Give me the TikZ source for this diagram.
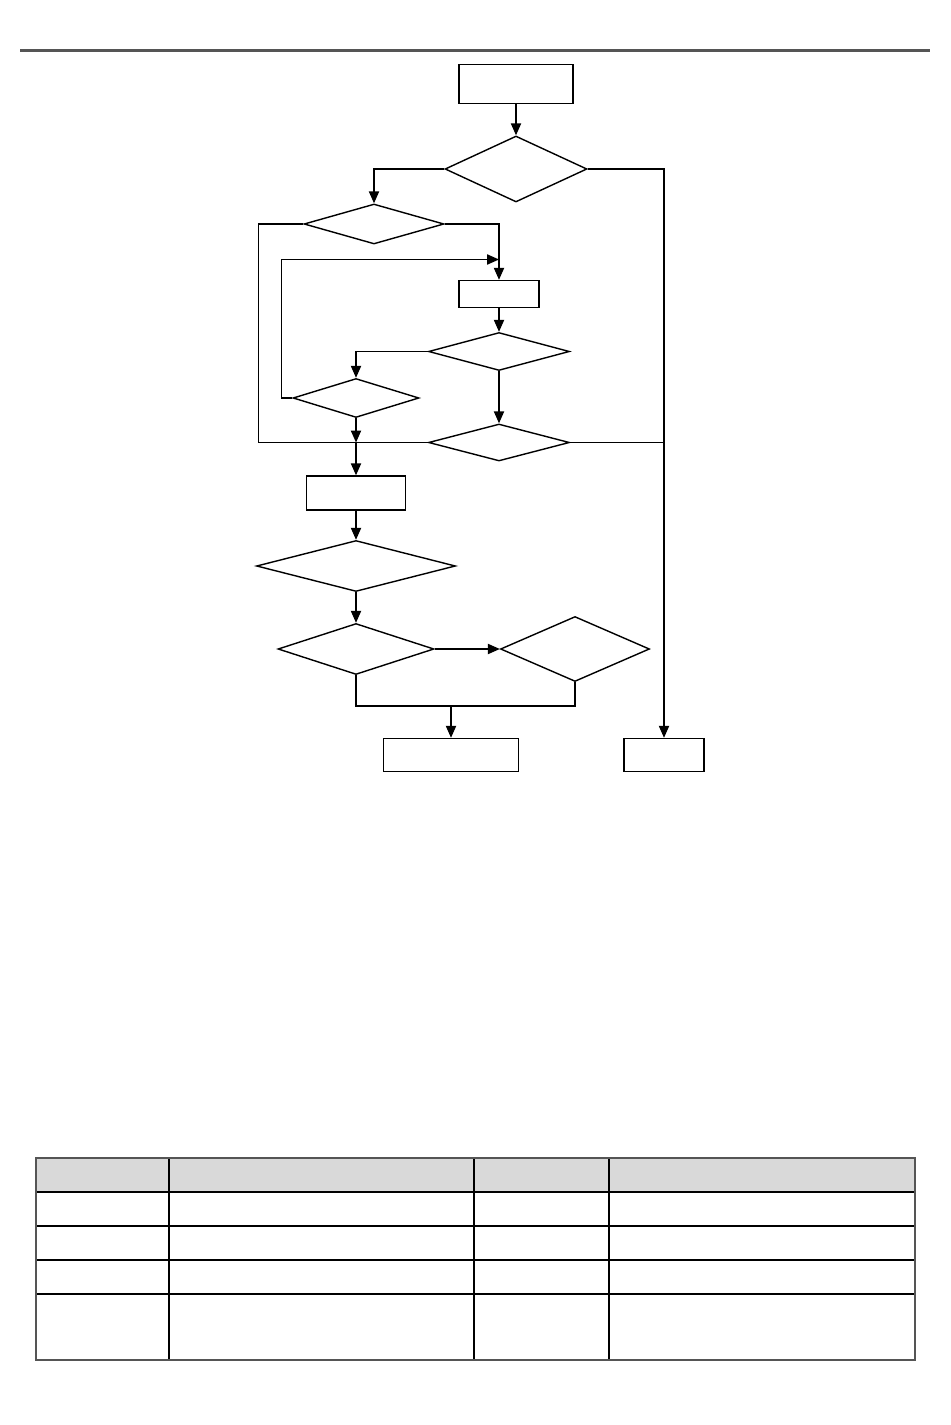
\documentclass[tikz,border=0pt]{standalone}
\usepackage{tikz}
\usetikzlibrary{shapes.geometric}
\usetikzlibrary{arrows.meta}
\usetikzlibrary{positioning, calc}
\definecolor{rulegray}{HTML}{555555}
\definecolor{headgray}{HTML}{D9D9D9}
\tikzset{
  box/.style={draw, line width=0.8pt, inner sep=0pt},
  test/.style={draw, diamond, line width=0.8pt, inner sep=0pt},
  arr/.style={line width=0.8pt, -{Triangle[length=6.8pt, width=5.8pt]}},
  link/.style={line width=0.8pt}
}
\begin{document}
\begin{tikzpicture}[x=0.02cm, y=-0.02cm]
\useasboundingbox (0,0) rectangle (950,1425);
\draw[rulegray, line width=1.4pt] (20,50.5) -- (930,50.5); % top rule
% boxes and tests
\node[box, minimum width=2.28cm, minimum height=0.78cm] (start) at (516,84) {};
\node[test, minimum width=2.84cm, minimum height=1.32cm] (d1) at (516,169) {};
\node[test, minimum width=2.80cm, minimum height=0.80cm] (d2) at (374,224) {};
\node[box, minimum width=1.60cm, minimum height=0.54cm] (r2) at (499,294) {};
\node[test, minimum width=2.82cm, minimum height=0.76cm] (d3) at (499,351.5) {};
\node[test, minimum width=2.52cm, minimum height=0.78cm] (d4) at (356,398) {};
\node[test, minimum width=2.82cm, minimum height=0.74cm] (d5) at (499,442.5) {};
\node[box, minimum width=1.98cm, minimum height=0.68cm] (r3) at (356,493) {};
\node[test, minimum width=3.98cm, minimum height=1.02cm] (d6) at (356,566) {};
\node[test, minimum width=3.12cm, minimum height=1.02cm] (d7) at (356,649) {};
\node[test, minimum width=2.98cm, minimum height=1.30cm] (d8) at (575,649) {};
\node[box, minimum width=2.70cm, minimum height=0.66cm] (r4) at (451,755) {};
\node[box, minimum width=1.60cm, minimum height=0.66cm] (r5) at (664,755) {};
\coordinate (loopin) at (499,259.5);
\coordinate (join) at (356,442.5);
\coordinate (merge) at (451,706);
% connectors
\draw[arr] (start) -- (d1);
\draw[arr] (d1.west) -| (d2.north);
\draw[arr] (d1.east) -| (r5.north);
\draw[arr] (d2.east) -| (r2.north);
\draw[link] (d2.west) -- ++(-45,0) |- (d5.west);
\draw[arr] (d4.west) -- ++(-11,0) |- (loopin);
\draw[arr] (r2) -- (d3);
\draw[arr] (d3.west) -| (d4.north);
\draw[arr] (d3) -- (d5);
\draw[link] (d5.east) -- (r5.north |- d5.east);
\draw[arr] (d4.south) -- (join);
\draw[arr] (join) -- (r3.north);
\draw[arr] (r3) -- (d6);
\draw[arr] (d6) -- (d7);
\draw[arr] (d7.east) -- (d8.west);
\draw[link] (d7.south) |- (merge) -| (d8.south);
\draw[arr] (merge) -- (r4.north);
% table
\fill[headgray] (36,1158) rectangle (915,1192);
\foreach \y in {1192,1226,1260,1294} % rows
\draw[line width=0.9pt] (36,\y) -- (915,\y);
\foreach \x in {169,474,609} % columns
\draw[line width=0.9pt] (\x,1158) -- (\x,1360);
\draw[rulegray, line width=1.2pt] (36,1158) rectangle (915,1360);
\end{tikzpicture}
\end{document}
